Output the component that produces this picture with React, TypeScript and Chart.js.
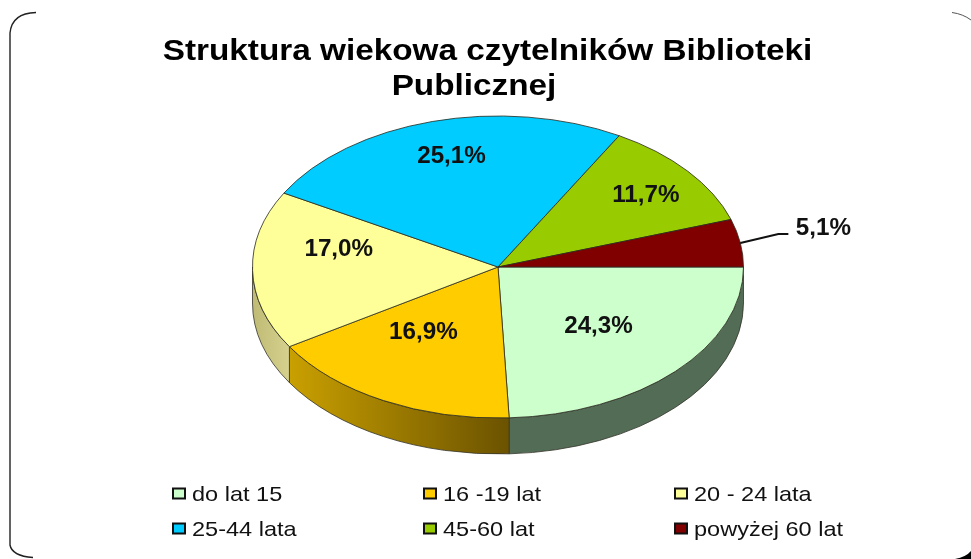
import React, { useEffect, useRef } from "react";
import { Chart, registerables } from "chart.js";

Chart.register(...registerables);

const categories = ["do lat 15", "16 -19 lat", "20 - 24 lata", "25-44 lata", "45-60 lat", "powyżej 60 lat"];
const shares = [24.3, 16.9, 17.0, 25.1, 11.7, 5.1];
const shareLabels = ["24,3%", "16,9%", "17,0%", "25,1%", "11,7%", "5,1%"];
const titleLines = ["Struktura wiekowa czytelników Biblioteki", "Publicznej"];

const topColors = ["#CCFFCC", "#FFCC00", "#FFFF99", "#00CCFF", "#99CC00", "#800000"];
const wallColors: string[][] = [
  ["#536C56", "#536C56"],
  ["#6B5200", "#C9A000"],
  ["#D6D28E", "#BFBB75"],
  ["#00779A", "#00779A"],
  ["#5A7800", "#5A7800"],
  ["#4A0000", "#4A0000"],
];
const labelNudge = [[-6, -3], [-6, -15], [-12, -19], [-7, -23], [34, -14], [0, 0]];

const SQUASH = 151 / 245.5;
const DEPTH = 36;
const FONT = '"Liberation Sans", Arial, sans-serif';

function stretchedText(ctx: any, text: string, x: number, y: number, sx: number) {
  ctx.save();
  ctx.translate(x, y);
  ctx.scale(sx, 1);
  ctx.fillText(text, 0, 0);
  ctx.restore();
}

const pie3d = {
  id: "pie3d",
  beforeDraw(chart: any) {
    const { ctx } = chart;
    ctx.save();
    ctx.fillStyle = "#fff";
    ctx.fillRect(0, 0, chart.width, chart.height);
    ctx.strokeStyle = "#222";
    ctx.lineWidth = 1.4;
    ctx.beginPath();
    ctx.moveTo(36, 12.5);
    ctx.quadraticCurveTo(12, 13, 10, 33);
    ctx.lineTo(10, 545);
    ctx.quadraticCurveTo(12, 556, 33, 557.5);
    ctx.stroke();
    ctx.strokeStyle = "#555";
    ctx.lineWidth = 1;
    ctx.beginPath();
    ctx.moveTo(952, 12.5);
    ctx.quadraticCurveTo(963, 14, 971, 20);
    ctx.stroke();
    ctx.fillStyle = "#000";
    ctx.beginPath();
    ctx.moveTo(971, 551);
    ctx.quadraticCurveTo(966, 557, 955, 559);
    ctx.lineTo(971, 559);
    ctx.closePath();
    ctx.fill();
    ctx.restore();
  },
  beforeDatasetsDraw(chart: any) {
    const { ctx } = chart;
    const arcs = chart.getDatasetMeta(0).data;
    const { x: cx, y: cy, outerRadius: rx } = arcs[0];
    const ry = rx * SQUASH;
    arcs.forEach((arc: any, i: number) => {
      const a = Math.max(arc.startAngle, 0);
      const b = Math.min(arc.endAngle, Math.PI);
      if (b <= a) return;
      const xa = cx + rx * Math.cos(a);
      const xb = cx + rx * Math.cos(b);
      const g = ctx.createLinearGradient(xa, 0, xb, 0);
      g.addColorStop(0, wallColors[i][0]);
      g.addColorStop(1, wallColors[i][1]);
      ctx.beginPath();
      ctx.ellipse(cx, cy, rx, ry, 0, a, b);
      ctx.ellipse(cx, cy + DEPTH, rx, ry, 0, b, a, true);
      ctx.closePath();
      ctx.fillStyle = g;
      ctx.fill();
      ctx.strokeStyle = "#33332a";
      ctx.lineWidth = 0.8;
      ctx.stroke();
    });
    ctx.save();
    ctx.translate(cx, cy);
    ctx.scale(1, SQUASH);
    ctx.translate(-cx, -cy);
  },
  afterDatasetsDraw(chart: any) {
    const { ctx } = chart;
    ctx.restore();
    const arcs = chart.getDatasetMeta(0).data;
    const { x: cx, y: cy, outerRadius: rx } = arcs[0];
    const ry = rx * SQUASH;
    ctx.save();
    ctx.fillStyle = "#111";
    ctx.textBaseline = "middle";
    ctx.textAlign = "center";
    ctx.font = `bold 23.5px ${FONT}`;
    arcs.forEach((arc: any, i: number) => {
      const mid = (arc.startAngle + arc.endAngle) / 2;
      if (i === arcs.length - 1) {
        const ex = cx + rx * Math.cos(mid);
        const ey = cy + ry * Math.sin(mid);
        ctx.strokeStyle = "#111";
        ctx.lineWidth = 2;
        ctx.beginPath();
        ctx.moveTo(ex, ey);
        ctx.lineTo(ex + 38, ey - 9);
        ctx.lineTo(ex + 48, ey - 9);
        ctx.stroke();
        stretchedText(ctx, shareLabels[i], ex + 83, ey - 14, 1.03);
      } else {
        const x = cx + 0.6 * rx * Math.cos(mid) + labelNudge[i][0];
        const y = cy + 0.6 * ry * Math.sin(mid) + labelNudge[i][1];
        stretchedText(ctx, shareLabels[i], x, y, 1.03);
      }
    });

    ctx.fillStyle = "#000";
    ctx.font = `bold 30px ${FONT}`;
    stretchedText(ctx, titleLines[0], 487.5, 52, 1.11);
    stretchedText(ctx, titleLines[1], 474, 87, 1.11);

    ctx.font = `21px ${FONT}`;
    ctx.textAlign = "left";
    const columns = [172, 423, 674];
    const rows = [494, 529];
    categories.forEach((name, i) => {
      const x = columns[i % 3];
      const y = rows[Math.floor(i / 3)];
      ctx.fillStyle = topColors[i];
      ctx.strokeStyle = "#111";
      ctx.lineWidth = 2;
      ctx.fillRect(x + 1, y - 5.5, 12, 10);
      ctx.strokeRect(x + 1, y - 5.5, 12, 10);
      ctx.fillStyle = "#111";
      stretchedText(ctx, name, x + 20, y + 1, 1.12);
    });
    ctx.restore();
  },
};

export default function App() {
  const ref = useRef<HTMLCanvasElement>(null);
  useEffect(() => {
    const chart = new Chart(ref.current!, {
      type: "pie",
      data: {
        labels: categories,
        datasets: [{
          data: shares,
          backgroundColor: topColors,
          borderColor: "#2a2a20",
          borderWidth: 1,
        }],
      },
      options: {
        animation: false,
        responsive: false,
        radius: 245.5,
        rotation: 90,
        layout: { padding: { left: 25, right: 0, top: 0, bottom: 25 } },
        plugins: { legend: { display: false }, tooltip: { enabled: false } },
      } as any,
      plugins: [pie3d],
    });
    return () => chart.destroy();
  }, []);
  return (
    <div style={{ position: "fixed", left: 0, top: 0, width: 971, height: 559, background: "#fff" }}>
      <canvas ref={ref} width={971} height={559} style={{ display: "block" }} />
    </div>
  );
}
